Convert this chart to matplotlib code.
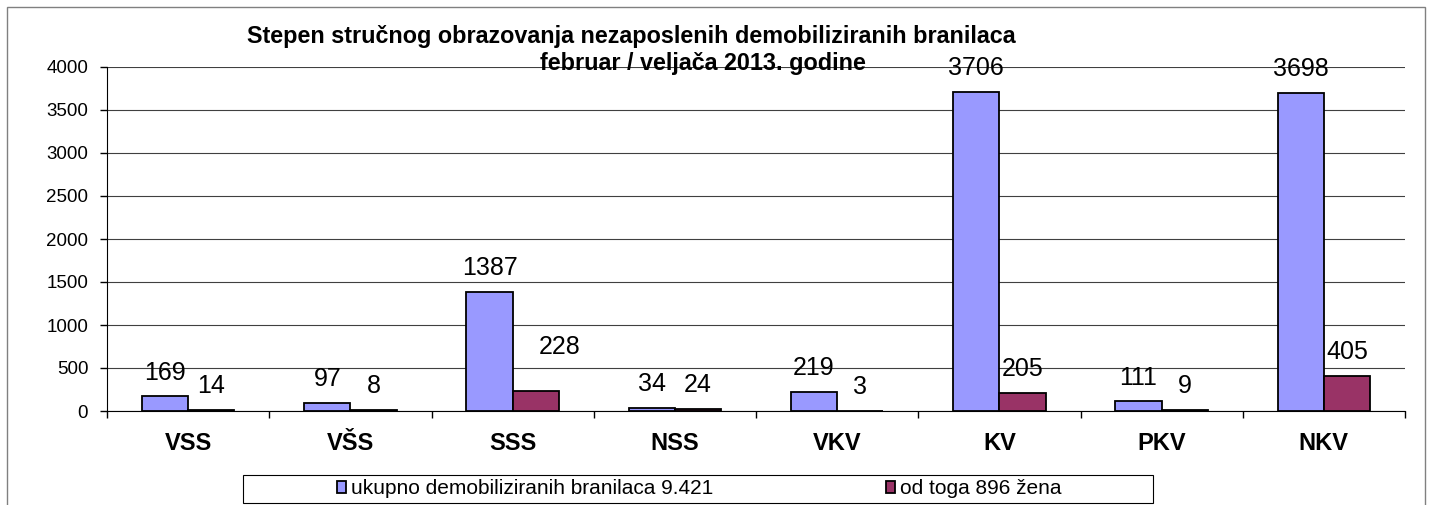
import matplotlib.pyplot as plt
import matplotlib.patches as mpatches
import numpy as np

kategorije = ["VSS", "VŠS", "SSS", "NSS", "VKV", "KV", "PKV", "NKV"]
ukupno = [169, 97, 1387, 34, 219, 3706, 111, 3698]
zene = [14, 8, 228, 24, 3, 205, 9, 405]
y_oznake = [0, 500, 1000, 1500, 2000, 2500, 3000, 3500, 4000]

plava = "#9999FF"
crvena = "#993366"
font = "Liberation Sans"

fig = plt.figure(figsize=(14.33, 5.05), dpi=100)
W, H = 1433, 505

# okvir oko cijelog grafikona
fig.patches.append(mpatches.Rectangle((7 / W, -0.1), (1425 - 7) / W, (505 - 7) / H + 0.1,
                                      transform=fig.transFigure, fill=False,
                                      edgecolor="#808080", linewidth=1))

ax = fig.add_axes([107 / W, (H - 411) / H, (1405 - 107) / W, (411 - 67) / H])

x = np.arange(len(kategorije))
sirina = 0.285
b1 = ax.bar(x - sirina / 2, ukupno, sirina, color=plava, edgecolor="black", linewidth=1.3,
            label="ukupno demobiliziranih branilaca 9.421", zorder=3)
b2 = ax.bar(x + sirina / 2, zene, sirina, color=crvena, edgecolor="black", linewidth=1.3,
            label="od toga 896 žena", zorder=3)

# oznake vrijednosti (228 je u originalu ručno pomaknuta)
for bars, vals in ((b1, ukupno), (b2, zene)):
    for r, v in zip(bars, vals):
        dx, dy = 0, 12.2
        if bars is b2 and v == 228:
            dx, dy = 17.3, 26.6
        ax.annotate(str(v), (r.get_x() + r.get_width() / 2, v), xytext=(dx, dy),
                    textcoords="offset points", ha="center", va="baseline",
                    fontsize=18, family=font, zorder=4)

ax.set_xlim(-0.5, len(kategorije) - 0.5)
ax.set_ylim(0, 4000)
ax.set_yticks(y_oznake)
ax.set_yticklabels([str(v) for v in y_oznake], fontsize=13.5, family=font)
ax.yaxis.grid(True, color="#404040", linewidth=0.8, zorder=0)
ax.set_axisbelow(True)

ax.set_xticks(x)
ax.set_xticklabels(kategorije, fontsize=17, fontweight="bold", family=font)
ax.tick_params(axis="x", length=0, pad=15)
ax.set_xticks(np.arange(len(kategorije) + 1) - 0.5, minor=True)
ax.tick_params(axis="x", which="minor", length=5, width=1, direction="out")
ax.tick_params(axis="y", length=5, width=1, direction="out", pad=8.5)

for s in ("top", "right"):
    ax.spines[s].set_visible(False)

fig.text(631 / W, 1 - 43 / H, "Stepen stručnog obrazovanja nezaposlenih demobiliziranih branilaca",
         ha="center", va="baseline", fontsize=16.8, fontweight="bold", family=font)
fig.text(703 / W, 1 - 70 / H, "februar / veljača 2013. godine",
         ha="center", va="baseline", fontsize=16.8, fontweight="bold", family=font)

# okvir legende
fig.patches.append(mpatches.Rectangle((243 / W, 1 - 503 / H), 910 / W, 28 / H,
                                      transform=fig.transFigure, fill=False,
                                      edgecolor="black", linewidth=0.8))
# dvije stavke legende, svaka na svom mjestu
for h, x_lijevo in ((b1, 337), (b2, 886)):
    fig.legend(handles=[h], loc="center left", bbox_to_anchor=(x_lijevo / W, 1 - 489 / H),
               prop={"family": "Liberation Sans", "size": 15},
               frameon=False, borderpad=0, handlelength=0.45, handleheight=0.45,
               handletextpad=0.2, borderaxespad=0)

fig.savefig("out.png", dpi=100)
